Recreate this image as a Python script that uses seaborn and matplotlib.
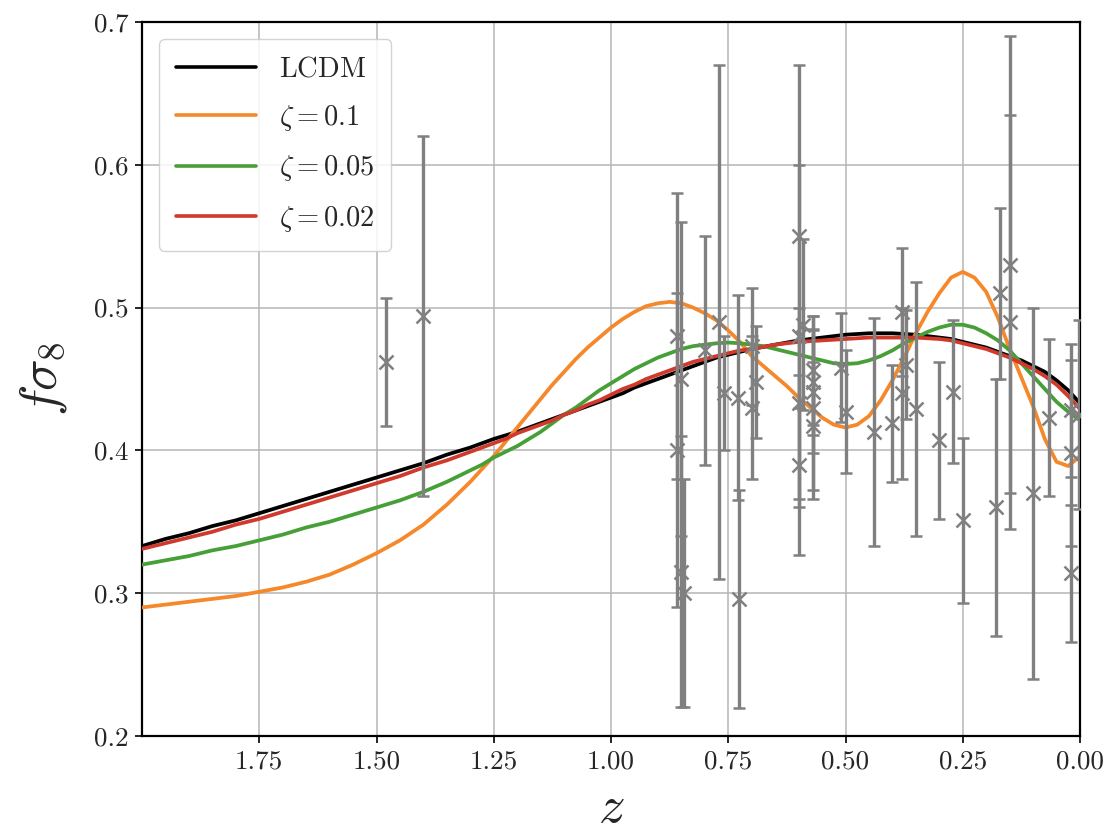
import numpy as np
import pandas as pd
import seaborn as sns
import matplotlib
matplotlib.use("Agg")
import matplotlib.pyplot as plt

# ---------------------------------------------------------------------------
# Growth-rate observable f*sigma_8(z): model curves and data compilation
# ---------------------------------------------------------------------------
z_grid = [
    0.000, 0.025, 0.050, 0.075, 0.100, 0.125, 0.150, 0.175, 0.200, 0.225,
    0.250, 0.275, 0.300, 0.325, 0.350, 0.375, 0.400, 0.425, 0.450, 0.475,
    0.500, 0.525, 0.550, 0.575, 0.600, 0.625, 0.650, 0.675, 0.700, 0.725,
    0.750, 0.775, 0.800, 0.825, 0.850, 0.875, 0.900, 0.925, 0.950, 0.975,
    1.000, 1.025, 1.050, 1.075, 1.100, 1.125, 1.150, 1.175, 1.200, 1.225,
    1.250, 1.275, 1.300, 1.350, 1.400, 1.450, 1.500, 1.550, 1.600, 1.650,
    1.700, 1.750, 1.800, 1.850, 1.900, 1.950, 2.000,
]

fs8_lcdm = [
    0.433, 0.442, 0.449, 0.455, 0.459, 0.463, 0.466, 0.469, 0.472, 0.474,
    0.476, 0.478, 0.479, 0.480, 0.481, 0.4815, 0.482, 0.482, 0.482, 0.4815,
    0.481, 0.480, 0.479, 0.478, 0.477, 0.4755, 0.474, 0.4725, 0.471, 0.469,
    0.467, 0.465, 0.462, 0.459, 0.456, 0.453, 0.450, 0.447, 0.444, 0.440,
    0.437, 0.434, 0.431, 0.428, 0.425, 0.422, 0.419, 0.416, 0.413, 0.4105,
    0.408, 0.405, 0.402, 0.397, 0.391, 0.386, 0.381, 0.376, 0.371, 0.366,
    0.361, 0.356, 0.351, 0.347, 0.342, 0.338, 0.333,
]

fs8_zeta_010 = [
    0.396, 0.389, 0.392, 0.408, 0.431, 0.451, 0.471, 0.493, 0.511, 0.521,
    0.525, 0.521, 0.510, 0.497, 0.482, 0.465, 0.449, 0.435, 0.424, 0.418,
    0.416, 0.418, 0.423, 0.430, 0.437, 0.445, 0.452, 0.459, 0.466, 0.476,
    0.484, 0.491, 0.496, 0.500, 0.503, 0.504, 0.503, 0.501, 0.497, 0.492,
    0.486, 0.479, 0.472, 0.464, 0.455, 0.446, 0.436, 0.426, 0.416, 0.406,
    0.396, 0.387, 0.378, 0.362, 0.348, 0.337, 0.328, 0.320, 0.313, 0.308,
    0.304, 0.301, 0.298, 0.296, 0.294, 0.292, 0.290,
]

fs8_zeta_005 = [
    0.421, 0.427, 0.434, 0.443, 0.452, 0.461, 0.470, 0.477, 0.482, 0.486,
    0.488, 0.488, 0.486, 0.483, 0.479, 0.475, 0.470, 0.466, 0.463, 0.461,
    0.4605, 0.461, 0.463, 0.465, 0.467, 0.469, 0.471, 0.473, 0.474, 0.475,
    0.4755, 0.475, 0.474, 0.473, 0.471, 0.468, 0.465, 0.461, 0.457, 0.452,
    0.447, 0.442, 0.436, 0.430, 0.425, 0.419, 0.413, 0.408, 0.403, 0.399,
    0.395, 0.390, 0.386, 0.378, 0.371, 0.365, 0.360, 0.355, 0.350, 0.346,
    0.341, 0.337, 0.333, 0.330, 0.326, 0.323, 0.320,
]

fs8_zeta_002 = [
    0.429, 0.438, 0.446, 0.452, 0.457, 0.461, 0.465, 0.468, 0.471, 0.473,
    0.475, 0.477, 0.478, 0.4785, 0.479, 0.479, 0.479, 0.479, 0.479, 0.4785,
    0.478, 0.4775, 0.477, 0.4765, 0.476, 0.475, 0.474, 0.4725, 0.471, 0.470,
    0.468, 0.466, 0.464, 0.462, 0.459, 0.456, 0.453, 0.450, 0.446, 0.443,
    0.439, 0.435, 0.432, 0.428, 0.425, 0.421, 0.418, 0.415, 0.412, 0.408,
    0.405, 0.402, 0.399, 0.393, 0.388, 0.382, 0.377, 0.372, 0.367, 0.362,
    0.357, 0.352, 0.348, 0.343, 0.339, 0.335, 0.331,
]

series_labels = [r"$\mathrm{LCDM}$", r"$\zeta=0.1$", r"$\zeta=0.05$", r"$\zeta=0.02$"]
series_colors = ["#000000", "#f5882a", "#47a037", "#d03a2c"]

# Observational points: redshift, f*sigma_8, 1-sigma error
obs_z = [
    1.48, 1.40, 0.86, 0.86, 0.85, 0.85, 0.845, 0.80, 0.77, 0.76,
    0.73, 0.727, 0.70, 0.70, 0.69, 0.60, 0.60, 0.60, 0.60, 0.59,
    0.57, 0.57, 0.57, 0.57, 0.57, 0.51, 0.50, 0.44, 0.40, 0.38,
    0.38, 0.37, 0.35, 0.30, 0.27, 0.25, 0.18, 0.17, 0.15, 0.15,
    0.10, 0.067, 0.02, 0.02, 0.02, 0.003,
]
obs_fs8 = [
    0.462, 0.494, 0.480, 0.400, 0.450, 0.315, 0.300, 0.470, 0.490, 0.440,
    0.437, 0.296, 0.473, 0.430, 0.448, 0.390, 0.550, 0.480, 0.433, 0.488,
    0.456, 0.448, 0.441, 0.430, 0.417, 0.458, 0.427, 0.413, 0.419, 0.497,
    0.440, 0.460, 0.429, 0.407, 0.441, 0.351, 0.360, 0.510, 0.490, 0.530,
    0.370, 0.423, 0.314, 0.398, 0.428, 0.425,
]
obs_err = [
    0.045, 0.126, 0.100, 0.110, 0.110, 0.095, 0.080, 0.080, 0.180, 0.040,
    0.072, 0.0765, 0.041, 0.050, 0.039, 0.063, 0.120, 0.120, 0.067, 0.060,
    0.038, 0.037, 0.043, 0.064, 0.045, 0.038, 0.043, 0.080, 0.041, 0.045,
    0.060, 0.038, 0.089, 0.055, 0.050, 0.058, 0.090, 0.060, 0.145, 0.160,
    0.130, 0.055, 0.048, 0.065, 0.0465, 0.066,
]

x_ticks = [0.00, 0.25, 0.50, 0.75, 1.00, 1.25, 1.50, 1.75]
y_ticks = [0.2, 0.3, 0.4, 0.5, 0.6, 0.7]

# ---------------------------------------------------------------------------
sns.set_theme(style="ticks")
plt.rcParams.update({
    "font.family": "serif",
    "font.serif": ["cmr10", "DejaVu Serif"],
    "mathtext.fontset": "cm",
    "axes.formatter.use_mathtext": True,
    "axes.unicode_minus": False,
    "lines.solid_capstyle": "round",
    "lines.solid_joinstyle": "round",
})

fig = plt.figure(figsize=(11.15, 8.39), dpi=100)
ax = fig.add_axes([0.1274, 0.1228, 0.8412, 0.851])

curves = pd.DataFrame({
    "z": z_grid,
    "LCDM": fs8_lcdm,
    "zeta_010": fs8_zeta_010,
    "zeta_005": fs8_zeta_005,
    "zeta_002": fs8_zeta_002,
})

for col, lab, colr in zip(["LCDM", "zeta_010", "zeta_005", "zeta_002"],
                          series_labels, series_colors):
    sns.lineplot(data=curves, x="z", y=col, color=colr, label=lab,
                 linewidth=2.7, ax=ax, zorder=3)

ax.errorbar(obs_z, obs_fs8, yerr=obs_err, fmt="x", color="#808080",
            ecolor="#808080", elinewidth=2.4, capsize=4.5, capthick=2.0,
            markersize=10, markeredgewidth=1.8, zorder=4)

ax.set_xlim(2.0, 0.0)
ax.set_ylim(0.2, 0.7)
ax.set_xticks(x_ticks)
ax.set_yticks(y_ticks)
ax.set_xticklabels([f"{v:.2f}" for v in x_ticks])
ax.set_yticklabels([f"{v:.1f}" for v in y_ticks])
ax.tick_params(axis="both", labelsize=19.5, direction="out", length=5,
               width=1.2, color="black", pad=5)
ax.grid(True, color="#b5b5b5", linewidth=1.1)
ax.set_axisbelow(True)
for sp in ax.spines.values():
    sp.set_color("black")
    sp.set_linewidth(1.6)

ax.set_xlabel(r"$z$", fontsize=38, labelpad=8)
ax.set_ylabel(r"$f\sigma_8$", fontsize=38, labelpad=18)

leg = ax.legend(loc="upper left", fontsize=20.5, handlelength=2.8,
                labelspacing=0.72, borderpad=0.6, framealpha=0.85,
                fancybox=True, borderaxespad=0.6)
leg.get_frame().set_edgecolor("#cccccc")
for h in leg.get_lines():
    h.set_linewidth(2.6)

fig.savefig("out.png", dpi=100)
